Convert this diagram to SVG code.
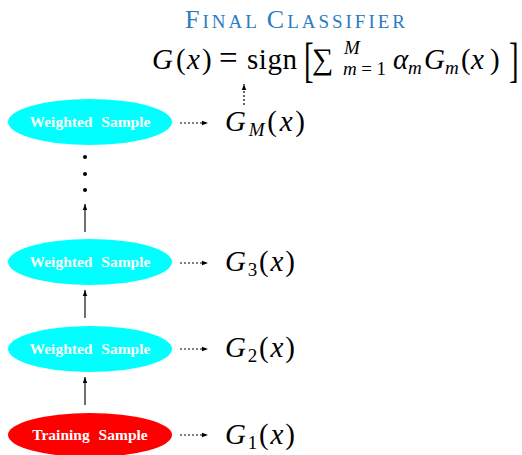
<svg xmlns="http://www.w3.org/2000/svg" width="522" height="455" viewBox="0 0 522 455">
<defs>
<marker id="ah" viewBox="0 0 6 6" refX="6" refY="3" markerWidth="6" markerHeight="6" markerUnits="userSpaceOnUse" orient="auto">
<path d="M0,0.8 L6,3 L0,5.2 Z" fill="#000"/>
</marker>
</defs>
<rect width="522" height="455" fill="#fff"/>
<text font-family="Liberation Serif" fill="#2b7bbf" x="185" y="28" textLength="220" lengthAdjust="spacing"><tspan font-size="26">F</tspan><tspan font-size="19">INAL </tspan><tspan font-size="26">C</tspan><tspan font-size="19">LASSIFIER</tspan></text>
<g id="formula" fill="#000" font-size="29" font-family="Liberation Serif">
<text font-family="Liberation Serif" x="152" y="69" font-style="italic">G</text>
<text font-family="Liberation Serif" x="176" y="69">(</text>
<text font-family="Liberation Serif" x="187" y="69" font-style="italic">x</text>
<text font-family="Liberation Serif" x="202" y="69">)</text>
<text font-family="Liberation Serif" x="219" y="69" font-size="33">=</text>
<text font-family="Liberation Serif" x="247" y="69" textLength="50" lengthAdjust="spacing">sign</text>
<text font-family="Liberation Serif" x="0" y="0" font-size="48" transform="translate(304 76) scale(0.6 1)">[</text>
<text font-family="Liberation Serif" x="312" y="69" font-size="30">∑</text>
<text font-family="Liberation Serif" x="344" y="54" font-size="19" font-style="italic">M</text>
<text font-family="Liberation Serif" x="343" y="75" font-size="19" textLength="43" lengthAdjust="spacing"><tspan font-style="italic">m</tspan>=1</text>
<text font-family="Liberation Serif" x="393" y="69" font-style="italic">α</text>
<text font-family="Liberation Serif" x="408" y="74" font-size="19" font-style="italic">m</text>
<text font-family="Liberation Serif" x="424" y="69" font-style="italic">G</text>
<text font-family="Liberation Serif" x="445" y="74" font-size="19" font-style="italic">m</text>
<text font-family="Liberation Serif" x="461" y="69">(</text>
<text font-family="Liberation Serif" x="471" y="69" font-style="italic">x</text>
<text font-family="Liberation Serif" x="490" y="69">)</text>
<text font-family="Liberation Serif" x="0" y="0" font-size="48" transform="translate(509 76) scale(0.6 1)">]</text>
</g>
<g id="connectors" fill="none">
<g stroke="#000" stroke-width="1.2" stroke-dasharray="2 2">
<line x1="244" y1="105" x2="244" y2="84" marker-end="url(#ah)"/>
<line x1="180" y1="123" x2="208" y2="123" marker-end="url(#ah)"/>
<line x1="180" y1="263" x2="208" y2="263" marker-end="url(#ah)"/>
<line x1="180" y1="349" x2="208" y2="349" marker-end="url(#ah)"/>
<line x1="180" y1="435" x2="208" y2="435" marker-end="url(#ah)"/>
</g>
<g stroke="#333" stroke-width="1.4">
<line x1="85" y1="232" x2="85" y2="204" marker-end="url(#ah)"/>
<line x1="85" y1="318" x2="85" y2="290" marker-end="url(#ah)"/>
<line x1="85" y1="405" x2="85" y2="377" marker-end="url(#ah)"/>
</g>
<g fill="#000">
<circle cx="85" cy="157" r="2"/>
<circle cx="85" cy="174" r="2"/>
<circle cx="85" cy="190" r="2"/>
</g>
</g>
<g id="nodeM">
<ellipse fill="#00ffff" cx="90" cy="122" rx="82" ry="23"/>
<text font-family="Liberation Serif" font-weight="bold" fill="#fff" text-anchor="middle" word-spacing="5" x="90" y="127" font-size="15.5">Weighted Sample</text>
</g>
<g id="node3">
<ellipse fill="#00ffff" cx="90" cy="262" rx="82" ry="23"/>
<text font-family="Liberation Serif" font-weight="bold" fill="#fff" text-anchor="middle" word-spacing="5" x="90" y="267" font-size="15.5">Weighted Sample</text>
</g>
<g id="node2">
<ellipse fill="#00ffff" cx="90" cy="349" rx="82" ry="23"/>
<text font-family="Liberation Serif" font-weight="bold" fill="#fff" text-anchor="middle" word-spacing="5" x="90" y="354" font-size="15.5">Weighted Sample</text>
</g>
<g id="node1">
<ellipse fill="#ff0000" cx="90" cy="435" rx="82" ry="22"/>
<text font-family="Liberation Serif" font-weight="bold" fill="#fff" text-anchor="middle" word-spacing="5" x="90" y="440" font-size="15.5">Training Sample</text>
</g>
<g id="labels" fill="#000" font-size="29" font-family="Liberation Serif">
<text font-family="Liberation Serif" x="225" y="131" textLength="80" lengthAdjust="spacing"><tspan font-style="italic">G</tspan><tspan font-style="italic" font-size="19" dy="5">M</tspan><tspan dy="-5">(</tspan><tspan font-style="italic">x</tspan>)</text>
<text font-family="Liberation Serif" x="225" y="271" textLength="70" lengthAdjust="spacing"><tspan font-style="italic">G</tspan><tspan font-size="19" dy="5">3</tspan><tspan dy="-5">(</tspan><tspan font-style="italic">x</tspan>)</text>
<text font-family="Liberation Serif" x="225" y="357" textLength="70" lengthAdjust="spacing"><tspan font-style="italic">G</tspan><tspan font-size="19" dy="5">2</tspan><tspan dy="-5">(</tspan><tspan font-style="italic">x</tspan>)</text>
<text font-family="Liberation Serif" x="225" y="444" textLength="70" lengthAdjust="spacing"><tspan font-style="italic">G</tspan><tspan font-size="19" dy="5">1</tspan><tspan dy="-5">(</tspan><tspan font-style="italic">x</tspan>)</text>
</g>
</svg>
